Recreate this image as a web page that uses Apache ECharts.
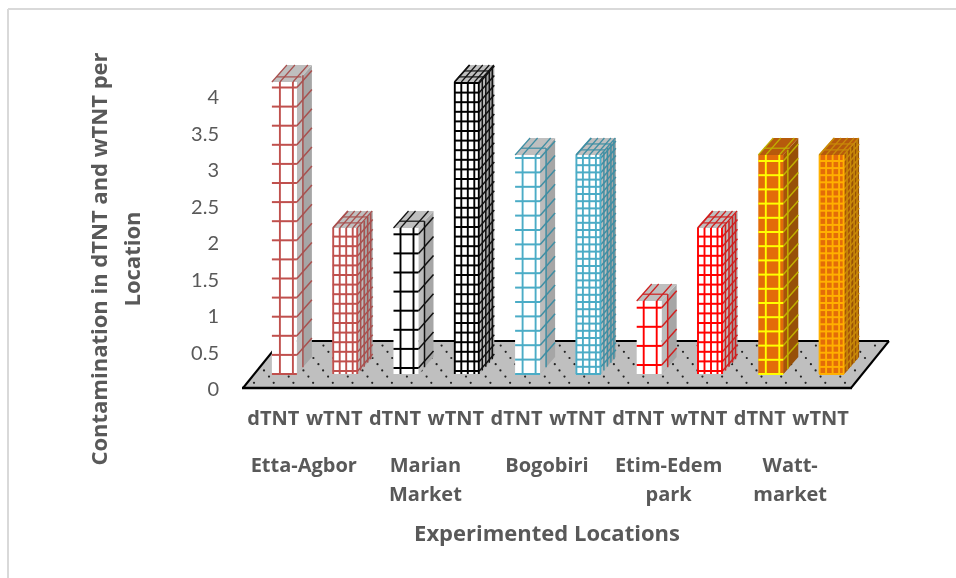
<!DOCTYPE html>
<html><head><meta charset="utf-8">
<style>html,body{margin:0;padding:0;background:#fff}#c{width:956px;height:578px}</style>
<script src="https://cdn.jsdelivr.net/npm/echarts@6/dist/echarts.min.js"></script>
</head><body><div id="c"></div>
<script>
var locations = ['Etta-Agbor', 'Marian\nMarket', 'Bogobiri', 'Etim-Edem\npark', 'Watt-\nmarket'];
var measures = ['dTNT', 'wTNT'];
var dTNT = [4, 2, 3, 1, 3];
var wTNT = [2, 4, 3, 2, 3];
var yTicks = {min: 0, max: 4, interval: 0.5};
var axisTitleY = 'Contamination in dTNT and wTNT per\nLocation';
var axisTitleX = 'Experimented Locations';

// hatch styles, one per bar
var WHITE = {face: '#ffffff', top: '#bfbfbf', sideA: '#bcbcbc', sideB: '#a6a6a6'};
var ORANGE = {face: '#e36c09', top: '#b65a0c', sideA: '#a65408', sideB: '#975008'};
var FINE_V = [0.5, 7, 13.5, 20, 24.5], FINE_SV = [3, 6.5, 10, 13], FINE_ST = [0.3, 0.65];
var hatch = [
  {base: WHITE, line: '#c0504d', dark: '#a8504e', h: 19.1, ph: 0, v: [8, 21], sv: [6], st: [0.3]},
  {base: WHITE, line: '#c0504d', dark: '#a8504e', h: 9.6, ph: 3, v: FINE_V, sv: FINE_SV, st: FINE_ST},
  {base: WHITE, line: '#000000', dark: '#111111', h: 19.1, ph: 6, v: [7, 20], sv: [6], st: [0.4]},
  {base: WHITE, line: '#000000', dark: '#111111', h: 9.6, ph: 3, v: FINE_V, sv: FINE_SV, st: FINE_ST},
  {base: WHITE, line: '#4bacc6', dark: '#3f8ea3', h: 14.4, ph: 0, v: [7.5, 20.5], sv: [6], st: [0.4]},
  {base: WHITE, line: '#4bacc6', dark: '#3f8ea3', h: 7.2, ph: 0, v: FINE_V, sv: FINE_SV, st: FINE_ST},
  {base: WHITE, line: '#ff0000', dark: '#d02020', h: 19.1, ph: 9, v: [7, 20], sv: [6], st: [0.4]},
  {base: WHITE, line: '#ff0000', dark: '#d02020', h: 9.6, ph: 3, v: FINE_V, sv: FINE_SV, st: FINE_ST},
  {base: ORANGE, line: '#ffff00', dark: '#c0b000', h: 14.2, ph: 0, v: [7.5, 21], sv: [4.5], st: [0.4]},
  {base: ORANGE, line: '#ffb000', dark: '#c98a08', h: 7.1, ph: 0, v: FINE_V, sv: FINE_SV, st: FINE_ST}
];

var barLabels = [], values = [];
locations.forEach(function (l, i) {
  barLabels.push(measures[0], measures[1]);
  values.push([2 * i, dTNT[i]], [2 * i + 1, wTNT[i]]);
});

var FONT = 'Open Sans';
var GREY = '#595959';
var FLOOR_DX = 38, FLOOR_DY = 47;     // depth of the floor
var BAR_SHIFT_X = 11, BAR_SHIFT_Y = 14; // bars stand this far behind the front edge
var BAR_W = 25, BAR_DX = 15, BAR_DY = 17;

function poly(points, fill, stroke, lw) {
  return {type: 'polygon', silent: true, shape: {points: points},
    style: {fill: fill || 'none', stroke: stroke || 'none', lineWidth: lw || 0}};
}
function seg(x1, y1, x2, y2, color, lw, op) {
  return {type: 'line', silent: true, shape: {x1: x1, y1: y1, x2: x2, y2: y2},
    style: {stroke: color, lineWidth: lw, opacity: op == null ? 1 : op}};
}

function renderFloor(params, api) {
  var p0 = api.coord([0, 0]), band = api.size([1, 0])[0];
  var xL = p0[0] - band / 2, y = p0[1], xR = xL + band * barLabels.length;
  var ch = [poly([[xL, y], [xR, y], [xR + FLOOR_DX, y - FLOOR_DY], [xL + FLOOR_DX, y - FLOOR_DY]], '#bfbfbf')];
  // dotted pattern
  for (var k = 0; k < 7; k++) {
    var ry = y - 5.2 - 6.2 * k, off = 11 + 5 * k + (k % 2 ? 10 : 0);
    for (var n = 0; n < 31; n++) {
      var dx = off + 19.7 * n;
      if (xL + dx < xR + (y - ry) * FLOOR_DX / FLOOR_DY - 3) {
        ch.push({type: 'circle', silent: true, shape: {cx: xL + dx, cy: ry, r: 1.1}, style: {fill: '#222'}});
      }
    }
  }
  ch.push(seg(xL + FLOOR_DX, y - FLOOR_DY, xR + FLOOR_DX, y - FLOOR_DY, '#000', 2));
  ch.push(seg(xL, y, xL + FLOOR_DX, y - FLOOR_DY, '#000', 2));
  ch.push(seg(xR, y, xR + FLOOR_DX, y - FLOOR_DY, '#000', 2));
  ch.push(seg(xL - 1, y, xR + 1, y, '#000', 2.4));
  return {type: 'group', children: ch};
}

function renderBar(params, api) {
  var i = api.value(0), v = api.value(1), s = hatch[params.dataIndex];
  var c0 = api.coord([i, 0]), c1 = api.coord([i, v]);
  var L = c0[0] + BAR_SHIFT_X - BAR_W / 2, R = L + BAR_W;
  var B = c0[1] - BAR_SHIFT_Y, T = c1[1] - BAR_SHIFT_Y;
  var dx = BAR_DX, dy = BAR_DY, ch = [];
  var mid = 0.38;
  // side: light then dark band
  ch.push(poly([[R, T], [R + dx, T - dy], [R + dx, B - dy], [R, B]], s.base.sideB));
  ch.push(poly([[R, T], [R + dx * mid, T - dy * mid], [R + dx * mid, B - dy * mid], [R, B]], s.base.sideA));
  // top
  ch.push(poly([[L, T], [R, T], [R + dx, T - dy], [L + dx, T - dy]], s.base.top));
  // front
  ch.push({type: 'rect', silent: true, shape: {x: L, y: T, width: BAR_W, height: B - T}, style: {fill: s.base.face}});
  // side hatch
  s.sv.forEach(function (o) {
    var yo = o * dy / dx;
    ch.push(seg(R + o, T - yo, R + o, B - yo, s.dark, 1.5));
  });
  // top hatch
  s.v.forEach(function (o) { ch.push(seg(L + o, T, L + o + dx, T - dy, s.dark, 1.2)); });
  s.st.forEach(function (f) { ch.push(seg(L + dx * f, T - dy * f, R + dx * f, T - dy * f, s.dark, 1.2)); });
  // horizontal hatch on front and side
  for (var y = B - s.ph; y > T + 0.5; y -= s.h) {
    if (y < B - 0.5) ch.push(seg(R, y, R + dx, y - dy, s.dark, 1.5));
    ch.push(seg(L, y, R, y, s.line, 2));
  }
  // vertical hatch on front
  s.v.forEach(function (o) { ch.push(seg(L + o, T, L + o, B, s.line, 1.9)); });
  ch.push(seg(L, T, L + dx, T - dy, s.dark, 1.2));
  return {type: 'group', children: ch};
}

var chart = echarts.init(document.getElementById('c'), null, {renderer: 'canvas'});
chart.setOption({
  animation: false,
  backgroundColor: '#ffffff',
  graphic: [
    {type: 'line', silent: true, shape: {x1: 8, y1: 9, x2: 956, y2: 9}, style: {stroke: '#d9d9d9', lineWidth: 2}},
    {type: 'line', silent: true, shape: {x1: 8, y1: 9, x2: 8, y2: 578}, style: {stroke: '#d9d9d9', lineWidth: 2}}
  ],
  grid: {left: 243, right: 105, top: 96, bottom: 190},
  xAxis: [
    {type: 'category', data: barLabels, position: 'bottom',
      axisLine: {show: false}, axisTick: {show: false},
      axisLabel: {interval: 0, margin: 21, fontFamily: FONT, fontWeight: 'bold', fontSize: 20, color: GREY}},
    {type: 'category', data: locations, position: 'bottom',
      axisLine: {show: false}, axisTick: {show: false},
      axisLabel: {interval: 0, margin: 64, fontFamily: FONT, fontWeight: 'bold', fontSize: 20, lineHeight: 29, color: GREY},
      name: axisTitleX, nameLocation: 'middle', nameGap: 136,
      nameTextStyle: {fontFamily: FONT, fontWeight: 'bold', fontSize: 22, color: GREY}}
  ],
  yAxis: {type: 'value', min: yTicks.min, max: yTicks.max, interval: yTicks.interval,
    axisLine: {show: false}, axisTick: {show: false}, splitLine: {show: false},
    axisLabel: {margin: 24, color: GREY, fontFamily: 'Lato', fontSize: 20,
      formatter: function (v) { return '{t|' + v + '}'; },
      rich: {t: {fontFamily: 'Lato', fontSize: 20, color: GREY, padding: [4, 0, 0, 0]}}},
    name: axisTitleY, nameLocation: 'middle', nameGap: 93,
    nameTextStyle: {fontFamily: FONT, fontWeight: 'bold', fontSize: 22, lineHeight: 33, color: GREY, padding: [0, 34, 0, 0]}},
  series: [
    {name: 'floor', type: 'custom', z: 1, xAxisIndex: 0, silent: true, clip: false,
      renderItem: renderFloor, data: [[0, 0]], encode: {x: 0, y: 1}},
    {name: 'Contamination', type: 'custom', z: 2, xAxisIndex: 0, silent: true, clip: false,
      renderItem: renderBar, data: values, encode: {x: 0, y: 1}}
  ]
});
</script></body></html>
